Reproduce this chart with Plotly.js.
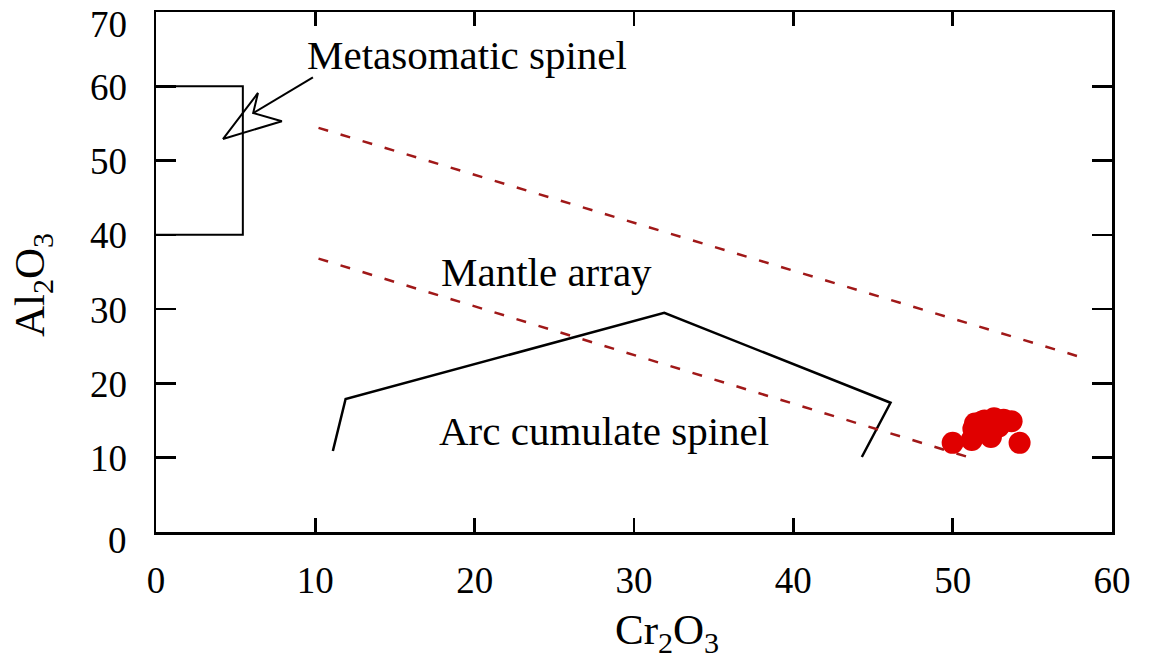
<!DOCTYPE html>
<html>
<head>
<meta charset="utf-8">
<script src="https://cdn.plot.ly/plotly-3.0.1.min.js"></script>
<style>html,body{margin:0;padding:0;background:#fff;}#chart{width:1150px;height:667px;}</style>
</head>
<body>
<div id="chart"></div>
<script>
// Metasomatic spinel field (box)
const metaX = [0, 5.45, 5.45, 0];
const metaY = [60, 60, 40, 40];
// Arc cumulate spinel field (polyline)
const arcX = [11.1, 11.9, 31.9, 46.1, 44.3];
const arcY = [10.9, 17.9, 29.5, 17.4, 10.1];
// Mantle array boundaries (dashed)
const mantleUpperX = [10.2, 57.8];
const mantleUpperY = [54.4, 23.7];
const mantleLowerX = [10.2, 51.1];
const mantleLowerY = [36.8, 10.0];
// Spinel analyses
const spinelX = [50.0, 51.2, 52.4, 54.2, 51.4, 52.0, 52.6, 53.7, 51.3, 52.9, 51.8, 53.2];
const spinelY = [12.0, 12.4, 12.8, 12.0, 14.6, 15.0, 15.3, 14.9, 13.9, 14.2, 14.8, 15.1];
// Arrow for "Metasomatic spinel" label
const arrowShaftX = [9.85, 6.1];
const arrowShaftY = [61.2, 56.4];
const arrowHeadX = [4.2, 6.4, 6.1, 7.9, 4.2];
const arrowHeadY = [52.9, 59.1, 56.4, 55.3, 52.9];

const xTicks = [0, 10, 20, 30, 40, 50, 60];
const yTicks = [0, 10, 20, 30, 40, 50, 60, 70];

const serif = '"Liberation Serif", "Times New Roman", serif';
const darkRed = '#a01818';

const traces = [
  {x: metaX, y: metaY, mode: 'lines', line: {color: '#000', width: 2}, hoverinfo: 'skip'},
  {x: arcX, y: arcY, mode: 'lines', line: {color: '#000', width: 2.5}, hoverinfo: 'skip'},
  {x: mantleUpperX, y: mantleUpperY, mode: 'lines', line: {color: darkRed, width: 2.5, dash: '10px,13px'}},
  {x: mantleLowerX, y: mantleLowerY, mode: 'lines', line: {color: darkRed, width: 2.5, dash: '10px,13px'}},
  {x: arrowShaftX, y: arrowShaftY, mode: 'lines', line: {color: '#000', width: 2}},
  {x: arrowHeadX, y: arrowHeadY, mode: 'lines', line: {color: '#000', width: 2}},
  {x: spinelX, y: spinelY, mode: 'markers', marker: {color: '#e00000', size: 22, line: {width: 0}}}
];

const axisCommon = {
  showline: true, linecolor: '#000', linewidth: 2.5, mirror: 'ticks',
  ticks: 'inside', tickcolor: '#000', tickwidth: 2.5,
  showgrid: false, zeroline: false, ticklabeloverflow: 'allow',
  tickfont: {family: serif, size: 37, color: '#000'}
};

const mT = 12, mB = 135, mL = 156, mR = 38;
const plotW = 1150 - mL - mR, plotH = 667 - mT - mB, bottomPx = 667 - mB;

const annotations = [
  {x: 19.5, y: 64.2, xref: 'x', yref: 'y', text: 'Metasomatic spinel', showarrow: false, font: {family: serif, size: 41, color: '#000'}},
  {x: 24.5, y: 35.0, xref: 'x', yref: 'y', text: 'Mantle array', showarrow: false, font: {family: serif, size: 41, color: '#000'}},
  {x: 28.1, y: 13.6, xref: 'x', yref: 'y', text: 'Arc cumulate spinel', showarrow: false, font: {family: serif, size: 41, color: '#000'}},
  {x: (667 - mL) / plotW, y: (bottomPx - 633) / plotH, xref: 'paper', yref: 'paper', xanchor: 'center', yanchor: 'middle',
   text: 'Cr<sub>2</sub>O<sub>3</sub>', showarrow: false, font: {family: serif, size: 43, color: '#000'}},
  {x: (33 - mL) / plotW, y: (bottomPx - 285) / plotH, xref: 'paper', yref: 'paper', xanchor: 'center', yanchor: 'middle', textangle: -90,
   text: 'Al<sub>2</sub>O<sub>3</sub>', showarrow: false, font: {family: serif, size: 43, color: '#000'}}
];
// y-axis tick labels (placed as in the original figure; end labels nudged inward)
yTicks.forEach(v => {
  annotations.push({
    x: (129 - mL) / plotW, xref: 'paper', xanchor: 'right',
    y: v, yref: 'y', yanchor: 'middle',
    yshift: v === 70 ? -12 : (v === 0 ? -8 : -1),
    text: String(v), showarrow: false,
    font: {family: serif, size: 37, color: '#000'}
  });
});

const layout = {
  width: 1150, height: 667,
  margin: {l: mL, r: mR, t: mT, b: mB},
  paper_bgcolor: '#fff', plot_bgcolor: '#fff',
  showlegend: false,
  font: {family: serif, color: '#000'},
  xaxis: Object.assign({}, axisCommon, {
    range: [0, 60], tickvals: xTicks, ticktext: xTicks.map(String), ticklen: 14,
    ticklabelstandoff: 14
  }),
  yaxis: Object.assign({}, axisCommon, {
    range: [0, 70], tickvals: yTicks, ticklen: 20, showticklabels: false
  }),
  annotations: annotations
};

Plotly.newPlot('chart', traces, layout, {staticPlot: true, displayModeBar: false});
</script>
</body>
</html>
